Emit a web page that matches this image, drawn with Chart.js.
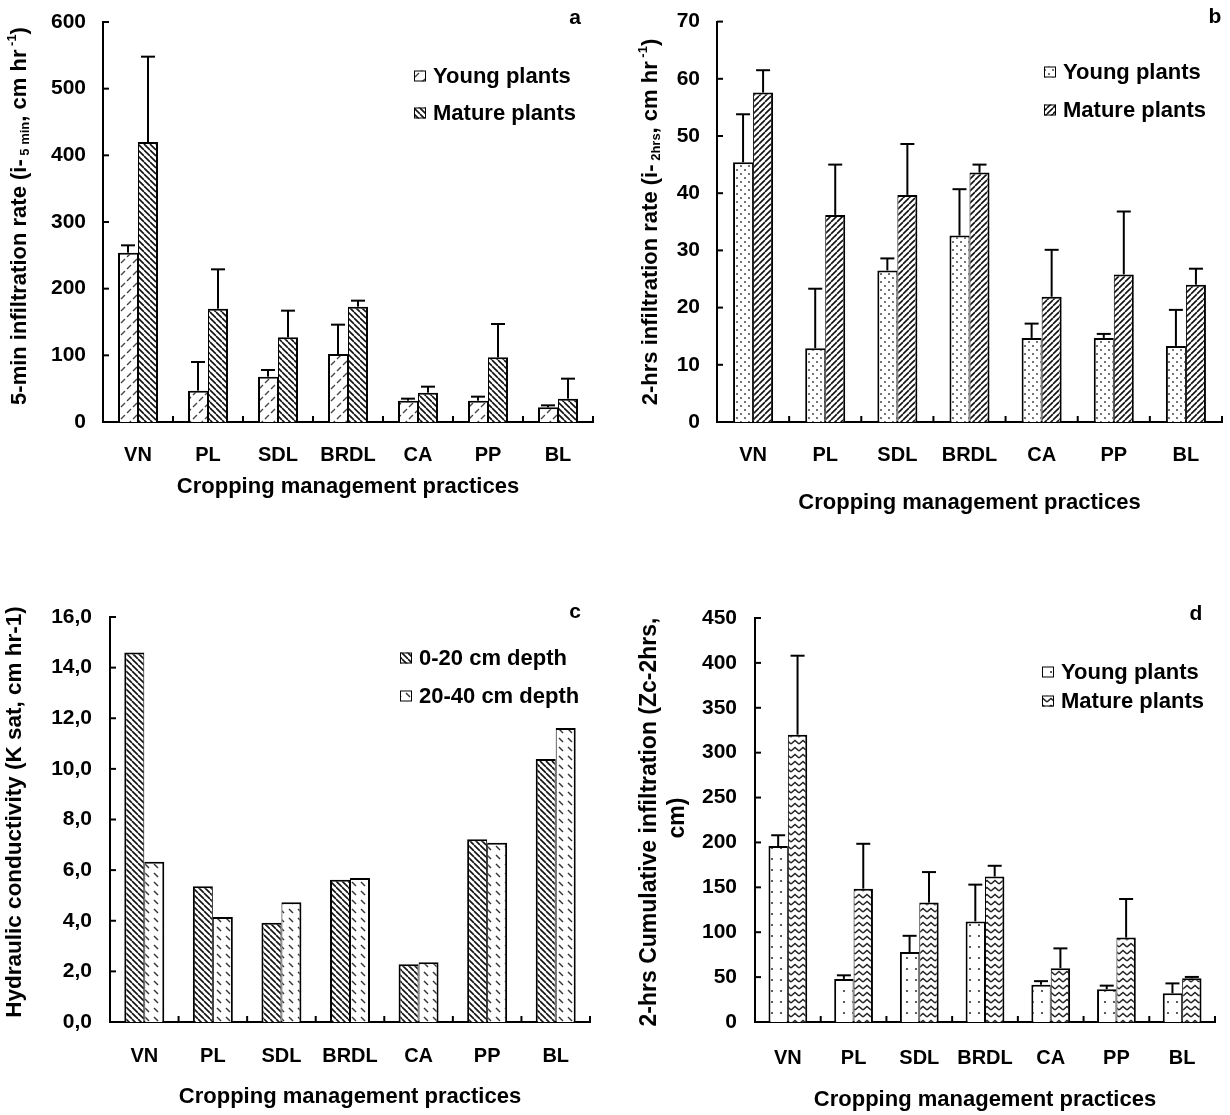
<!DOCTYPE html>
<html>
<head>
<meta charset="utf-8">
<script src="https://cdn.jsdelivr.net/npm/chart.js@4.4.1/dist/chart.umd.min.js"></script>
<style>
  html, body { margin:0; padding:0; background:#fff; }
  #fig { position:relative; width:1230px; height:1115px; }
  #fig canvas { position:absolute; }
</style>
</head>
<body>
<div id="fig">
  <canvas id="pa" width="615" height="557" style="left:0;top:0"></canvas>
  <canvas id="pb" width="615" height="557" style="left:615px;top:0"></canvas>
  <canvas id="pc" width="615" height="558" style="left:0;top:557px"></canvas>
  <canvas id="pd" width="615" height="558" style="left:615px;top:557px"></canvas>
</div>
<script>
// ---- data ----
const categories = ["VN","PL","SDL","BRDL","CA","PP","BL"];

// a: 5-min infiltration rate
const aYoung     = [254, 47, 68, 102, 32, 32, 22];
const aYoungErr  = [11, 43, 10, 44, 3, 6, 3];
const aMature    = [420, 170, 127, 173, 44, 97, 35];
const aMatureErr = [128, 59, 40, 9, 9, 50, 30];

// b: 2-hrs infiltration rate
const bYoung     = [45.4, 12.9, 26.5, 32.6, 14.7, 14.7, 13.3];
const bYoungErr  = [8.4, 10.4, 2.1, 8.1, 2.5, 0.7, 6.3];
const bMature    = [57.6, 36.2, 39.7, 43.6, 21.9, 25.8, 24.0];
const bMatureErr = [3.9, 8.8, 8.9, 1.4, 8.2, 11.0, 2.8];

// c: hydraulic conductivity (no error bars)
const cTop    = [14.6, 5.36, 3.92, 5.62, 2.28, 7.22, 10.39];
const cSub    = [6.33, 4.15, 4.73, 5.69, 2.36, 7.08, 11.61];

// d: 2-hrs cumulative infiltration
const dYoung     = [196, 48, 78, 112, 41.5, 36.5, 32];
const dYoungErr  = [12, 4, 18, 41, 4, 4, 11];
const dMature    = [320, 148.5, 133, 162, 60, 94, 48.7];
const dMatureErr = [88, 50, 34, 12, 22, 43, 1.5];

// axis ranges
const aAxis = { max: 600, step: 100 };
const bAxis = { max: 70,  step: 10 };
const cAxis = { max: 16,  step: 2 };
const dAxis = { max: 450, step: 50 };

const FONT = '"Liberation Sans", Arial, Helvetica, sans-serif';
Chart.defaults.font.family = FONT;
Chart.defaults.font.weight = "bold";
Chart.defaults.color = "#000";

// ---- hatch patterns ----
function pat(w, h, draw) {
  const c = document.createElement("canvas");
  c.width = w; c.height = h;
  const g = c.getContext("2d");
  g.fillStyle = "#fff"; g.fillRect(0, 0, w, h);
  draw(g);
  return g.createPattern(c, "repeat");
}
function diag(s, dir, lw, col) {
  return pat(s, s, g => {
    g.strokeStyle = col; g.lineWidth = lw; g.beginPath();
    for (let k = -1; k <= 1; k++) {
      if (dir === "\\") { g.moveTo(k*s, 0); g.lineTo(k*s + s, s); }
      else { g.moveTo(k*s, s); g.lineTo(k*s + s, 0); }
    }
    g.stroke();
  });
}
const P = {
  dashFwd: pat(12, 12, g => {
    g.strokeStyle = "#444"; g.lineWidth = 1.4; g.beginPath();
    g.moveTo(1, 11); g.lineTo(5, 7); g.moveTo(7, 5); g.lineTo(11, 1);
    g.stroke();
  }),
  backDense: diag(6, "\\", 1.6, "#111"),
  fwdDense: diag(6, "/", 1.6, "#111"),
  dots: pat(8, 8, g => {
    g.fillStyle = "#333";
    g.beginPath(); g.arc(2, 2, 0.9, 0, 7); g.fill();
    g.beginPath(); g.arc(6, 6, 0.9, 0, 7); g.fill();
  }),
  dashBack: pat(9, 9, g => {
    g.strokeStyle = "#333"; g.lineWidth = 1.5; g.beginPath();
    g.moveTo(1, 1); g.lineTo(5, 5);
    g.stroke();
  }),
  colDots: pat(9, 11, g => {
    g.fillStyle = "#333";
    g.beginPath(); g.arc(4, 5, 1.1, 0, 7); g.fill();
  }),
  zigzag: pat(8, 7, g => {
    g.strokeStyle = "#222"; g.lineWidth = 1.5; g.beginPath();
    g.moveTo(0, 5); g.lineTo(4, 1.5); g.lineTo(8, 5);
    g.stroke();
  })
};

// ---- overlay: error bars, inward ticks, legend, panel letter, y title ----
function seg(ctx, x1, y1, x2, y2) { ctx.beginPath(); ctx.moveTo(x1, y1); ctx.lineTo(x2, y2); ctx.stroke(); }

const decor = {
  id: "decor",
  afterDatasetsDraw(chart, args, o) {
    const ctx = chart.ctx, ys = chart.scales.y, ca = chart.chartArea;
    ctx.save();
    ctx.strokeStyle = "#000"; ctx.lineWidth = 2;

    chart.data.datasets.forEach((ds, i) => {
      if (!ds.errors) return;
      chart.getDatasetMeta(i).data.forEach((bar, j) => {
        const top = ys.getPixelForValue(ds.data[j] + ds.errors[j]);
        seg(ctx, bar.x, bar.y, bar.x, top);
        seg(ctx, bar.x - 7, top, bar.x + 7, top);
      });
    });

    ys.ticks.forEach(t => {
      const py = ys.getPixelForValue(t.value);
      seg(ctx, ca.left, py, ca.left + 6, py);
    });
    const n = chart.data.labels.length;
    for (let i = 1; i <= n; i++) {
      const px = ca.left + (ca.right - ca.left) * i / n;
      seg(ctx, px, ca.bottom, px, ca.bottom - 6);
    }

    // legend
    ctx.font = "bold 22px " + FONT;
    ctx.textBaseline = "middle";
    ctx.textAlign = "left";
    chart.data.datasets.forEach((ds, i) => {
      const ly = o.legend.y[i];
      ctx.fillStyle = ds.backgroundColor;
      ctx.fillRect(o.legend.x, ly - 5.5, 12, 11);
      ctx.lineWidth = 1;
      ctx.strokeRect(o.legend.x + 0.5, ly - 5, 11, 10);
      ctx.fillStyle = "#000";
      ctx.fillText(ds.label, o.legend.x + 19, ly + 1);
    });

    // panel letter
    ctx.font = "bold 21px " + FONT;
    ctx.textAlign = "center";
    ctx.fillText(o.letter.t, o.letter.x, o.letter.y);

    // rotated y title with sub/superscripts
    o.ytitle.forEach(line => {
      let total = 0;
      line.segs.forEach(s => { ctx.font = "bold " + (s.size || line.size) + "px " + FONT; s.w = ctx.measureText(s.t).width; total += s.w; });
      ctx.save();
      ctx.translate(line.x, line.y);
      ctx.rotate(-Math.PI / 2);
      ctx.textAlign = "left";
      let cx = -total / 2;
      line.segs.forEach(s => {
        ctx.font = "bold " + (s.size || line.size) + "px " + FONT;
        ctx.fillText(s.t, cx, s.dy || 0);
        cx += s.w;
      });
      ctx.restore();
    });
    ctx.restore();
  }
};

function makePanel(id, cfg) {
  const cv = document.getElementById(id);
  const W = cv.width, H = cv.height, A = cfg.area;
  const bw = [{ top: 2, left: 2, right: 1, bottom: 0 }, { top: 2, left: 1, right: 2, bottom: 0 }];
  return new Chart(cv, {
    type: "bar",
    data: {
      labels: categories,
      datasets: cfg.series.map((s, i) => ({
        label: s.label, data: s.data, errors: s.err,
        backgroundColor: s.fill, borderColor: "#000", borderWidth: bw[i],
        barPercentage: 1, categoryPercentage: cfg.catPct
      }))
    },
    options: {
      responsive: false, animation: false, devicePixelRatio: 1,
      layout: { padding: { top: A.top, right: W - A.right, left: 0, bottom: 0 } },
      plugins: {
        legend: { display: false }, tooltip: { enabled: false },
        decor: { legend: cfg.legend, letter: cfg.letter, ytitle: cfg.ytitle }
      },
      scales: {
        x: {
          grid: { display: false },
          border: { display: true, color: "#000", width: 2 },
          ticks: { font: { size: 20, weight: "bold" }, color: "#000", padding: cfg.xPad, maxRotation: 0, autoSkip: false },
          title: { display: true, text: "Cropping management practices", color: "#000",
                   font: { size: 22, weight: "bold" }, padding: { top: 0, bottom: cfg.titlePad } },
          afterFit: s => { s.height = H - A.bottom; }
        },
        y: {
          min: 0, max: cfg.axis.max,
          grid: { display: false },
          border: { display: true, color: "#000", width: 2 },
          ticks: { stepSize: cfg.axis.step, font: { size: 21, weight: "bold" }, color: "#000",
                   padding: cfg.yPad, callback: cfg.fmt || (v => v) },
          afterFit: s => { s.width = A.left; }
        }
      }
    },
    plugins: [decor]
  });
}

makePanel("pa", {
  area: { left: 103, right: 593, top: 22, bottom: 422 },
  axis: aAxis, catPct: 0.571, xPad: 13, yPad: 9, titlePad: 57,
  series: [
    { label: "Young plants", data: aYoung, err: aYoungErr, fill: P.dashFwd },
    { label: "Mature plants", data: aMature, err: aMatureErr, fill: P.backDense }
  ],
  legend: { x: 414, y: [76, 113] },
  letter: { t: "a", x: 575, y: 18 },
  ytitle: [{ x: 20, y: 216, size: 22, segs: [
    { t: "5-min infiltration rate (i-" }, { t: " 5 min", size: 13, dy: 5 }, { t: "," },
    { t: " cm hr" }, { t: " -1", size: 13, dy: -8 }, { t: ")" }
  ]}]
});

makePanel("pb", {
  area: { left: 102, right: 607, top: 19, bottom: 422 },
  axis: bAxis, catPct: 0.555, xPad: 13, yPad: 9, titlePad: 41,
  series: [
    { label: "Young plants", data: bYoung, err: bYoungErr, fill: P.dots },
    { label: "Mature plants", data: bMature, err: bMatureErr, fill: P.fwdDense }
  ],
  legend: { x: 429, y: [72, 110] },
  letter: { t: "b", x: 600, y: 17 },
  ytitle: [{ x: 36, y: 222, size: 22, segs: [
    { t: "2-hrs infiltration rate (i-" }, { t: " 2hrs", size: 13, dy: 5 }, { t: "," },
    { t: " cm hr" }, { t: " -1", size: 13, dy: -8 }, { t: ")" }
  ]}]
});

makePanel("pc", {
  area: { left: 110, right: 590, top: 60, bottom: 465 },
  axis: cAxis, catPct: 0.583, xPad: 14, yPad: 10, titlePad: 5,
  fmt: v => v.toFixed(1).replace(".", ","),
  series: [
    { label: "0-20 cm depth", data: cTop, fill: P.backDense },
    { label: "20-40 cm depth", data: cSub, fill: P.dashBack }
  ],
  legend: { x: 400, y: [101, 139] },
  letter: { t: "c", x: 575, y: 55 },
  ytitle: [{ x: 15, y: 255, size: 22.5, segs: [{ t: "Hydraulic conductivity (K sat, cm hr-1)" }] }]
});

makePanel("pd", {
  area: { left: 140, right: 600, top: 61, bottom: 465 },
  axis: dAxis, catPct: 0.59, xPad: 16, yPad: 10, titlePad: 2,
  series: [
    { label: "Young plants", data: dYoung, err: dYoungErr, fill: P.colDots },
    { label: "Mature plants", data: dMature, err: dMatureErr, fill: P.zigzag }
  ],
  legend: { x: 427, y: [115, 144] },
  letter: { t: "d", x: 581, y: 57 },
  ytitle: [
    { x: 35, y: 265, size: 23, segs: [{ t: "2-hrs Cumulative infiltration (Zc-2hrs," }] },
    { x: 63, y: 261, size: 23, segs: [{ t: "cm)" }] }
  ]
});
</script>
</body>
</html>
